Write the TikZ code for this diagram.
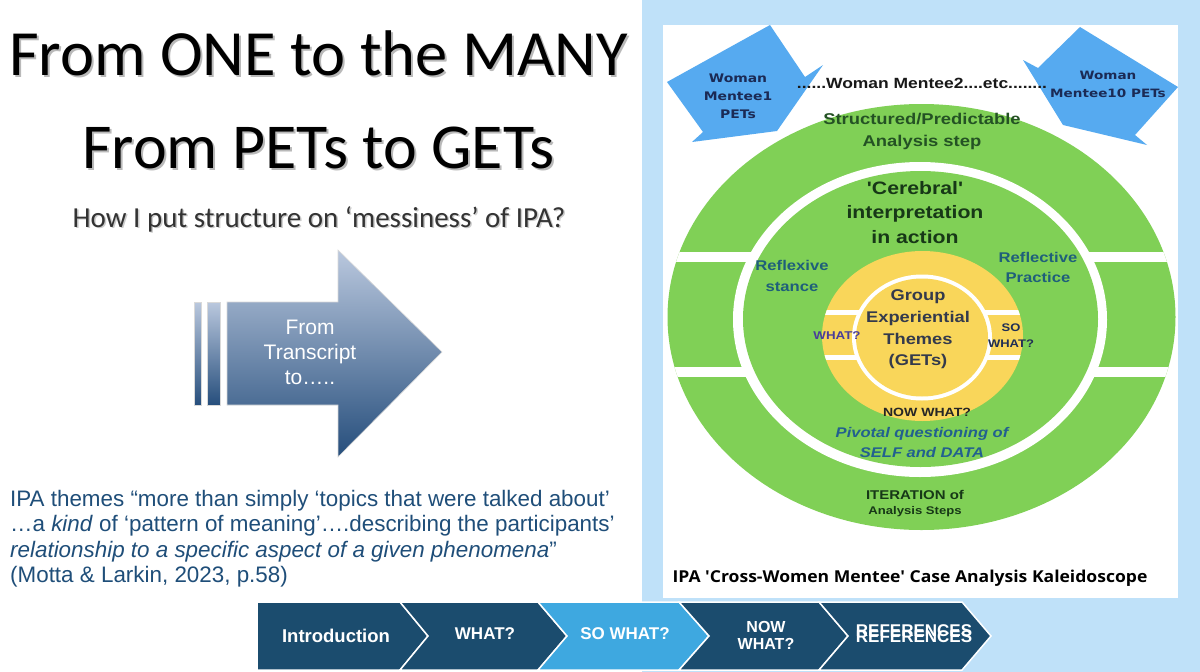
\documentclass[tikz,border=0pt]{standalone}
\usepackage{fontspec}
\setmainfont{Liberation Sans}
\newfontfamily\calfont{Carlito}
\newfontfamily\sfs[FakeStretch=1.18,Ligatures=TeXOff]{Liberation Sans}
\newfontfamily\dvs[FakeStretch=1.18,Ligatures=TeXOff]{DejaVu Sans}
\newfontfamily\ops[FakeStretch=1.07,Ligatures=TeXOff]{Open Sans}
\definecolor{panelblue}{RGB}{191,225,249}
\definecolor{ringgreen}{RGB}{128,208,86}
\definecolor{ringyellow}{RGB}{249,214,90}
\definecolor{arrowblue}{RGB}{86,170,240}
\definecolor{arrowtext}{RGB}{27,42,85}
\definecolor{dkgreen}{RGB}{36,82,36}
\definecolor{xdkgreen}{RGB}{23,56,23}
\definecolor{teal}{RGB}{31,95,122}
\definecolor{slate}{RGB}{52,58,76}
\definecolor{purp}{RGB}{74,61,154}
\definecolor{navy}{RGB}{31,46,85}
\definecolor{pivblue}{RGB}{34,96,143}
\definecolor{chevnavy}{RGB}{27,76,110}
\definecolor{chevlight}{RGB}{62,168,224}
\definecolor{quote}{RGB}{31,78,121}
\definecolor{arrowtop}{RGB}{186,200,222}
\definecolor{arrowbot}{RGB}{38,78,124}
\tikzset{
  txt/.style={inner sep=0pt, align=center},
  chev/.style={fill=chevnavy, draw=white, line width=1.5pt, line join=miter},
  chevtxt/.style={inner sep=0pt, align=center, text=white, font=\bfseries\fontsize{17}{18}\selectfont},
  quoteline/.style={inner sep=0pt, anchor=base west, text=quote, font=\fontsize{22.4}{25}\selectfont},
}
\begin{document}
\begin{tikzpicture}[x=1pt,y=-1pt]
\useasboundingbox (0,0) rectangle (1200,672);
\fill[white] (0,0) rectangle (1200,672);

% ---------------- left side ----------------
\node[txt, anchor=base, text=gray!55, font=\calfont\fontsize{64.5}{70}\selectfont] (t1s) at (320.5,77.5) {From ONE to the MANY};
\node[txt, anchor=base, font=\calfont\fontsize{64.5}{70}\selectfont] (t1) at (318.5,75) {From ONE to the MANY};
\node[txt, anchor=base, text=gray!55, font=\calfont\fontsize{64}{70}\selectfont] (t2s) at (320.5,170.5) {From PETs to GETs};
\node[txt, anchor=base, font=\calfont\fontsize{64}{70}\selectfont] (t2) at (318.5,168) {From PETs to GETs};
\node[txt, anchor=base, text=gray!40, font=\calfont\fontsize{29}{32}\selectfont] (t3s) at (320.5,228.5) {How I put structure on ‘messiness’ of IPA?};
\node[txt, anchor=base, text=black!80, font=\calfont\fontsize{29}{32}\selectfont] (t3) at (319,227) {How I put structure on ‘messiness’ of IPA?};

% big arrow
\shade[top color=arrowtop, bottom color=arrowbot, draw=white!70!gray, line width=0.6pt]
  (194,302) rectangle (201,405);
\shade[top color=arrowtop, bottom color=arrowbot, draw=white!70!gray, line width=0.6pt]
  (207,302) rectangle (220,405);
\shade[top color=arrowtop, bottom color=arrowbot, draw=white!70!gray, line width=0.6pt]
  (227,302) -- (338,302) -- (338,250) -- (442,352) -- (338,457) -- (338,405) -- (227,405) -- cycle;
\node[txt, text=white, font=\fontsize{21}{25}\selectfont] (arrtxt) at (310,352) {From\\Transcript\\to…..};

% quote
\node[quoteline] (q1) at (10,506) {IPA themes “more than simply ‘topics that were talked about’};
\node[quoteline] (q2) at (10,531.5) {…a \textit{kind} of ‘pattern of meaning’….describing the participants’};
\node[quoteline] (q3) at (10,557) {\textit{relationship to a specific aspect of a given phenomena}”};
\node[quoteline] (q4) at (10,582.5) {(Motta \& Larkin, 2023, p.58)};

% ---------------- right panel ----------------
\fill[panelblue] (642,0) rectangle (1200,672);
\fill[white] (663,25) rectangle (1178,598);

% rings
\fill[ringgreen] (921.5,317) ellipse [x radius=254pt, y radius=213pt];
\begin{scope}
  \clip (921.5,317) ellipse [x radius=254pt, y radius=213pt];
  \fill[white] (660,252) rectangle (1185,262);
  \fill[white] (660,367) rectangle (1185,377);
\end{scope}
\fill[white] (920,319.5) ellipse [x radius=187pt, y radius=157.5pt];
\fill[ringgreen] (920.5,319) ellipse [x radius=177.5pt, y radius=148pt];
\fill[ringyellow] (922.5,336) ellipse [x radius=100.5pt, y radius=85pt];
\begin{scope}
  \clip (922.5,336) ellipse [x radius=100.5pt, y radius=85pt];
  \fill[white] (815,310) rectangle (1030,315);
  \fill[white] (815,355) rectangle (1030,360);
\end{scope}
\fill[white] (922,337.5) ellipse [x radius=70pt, y radius=63pt];
\fill[ringyellow] (922,337.5) ellipse [x radius=66pt, y radius=59pt];

% blue arrows
\fill[arrowblue] (770,25) -- (805,77) -- (823,65) -- (777,131) -- (692,142) -- (703,132) -- (667,82) -- cycle;
\fill[arrowblue] (1080,27) -- (1178,87) -- (1135,135) -- (1147,145) -- (1063,125) -- (1023,60) -- (1038,68) -- cycle;
\node[txt, text=arrowtext, font=\dvs\bfseries\fontsize{11.8}{18}\selectfont] (wm1) at (738,96) {Woman\\Mentee1\\PETs};
\node[txt, text=arrowtext, font=\dvs\bfseries\fontsize{11.5}{18}\selectfont] (wm10) at (1108,84) {Woman\\Mentee10 PETs};
\node[txt, text=black!90, font=\sfs\bfseries\fontsize{14.8}{18}\selectfont] (wm2) at (922,83) {......Woman Mentee2....etc........};

% ring texts
\node[txt, text=dkgreen, font=\sfs\bfseries\fontsize{15.6}{22}\selectfont] (struct) at (922,131) {Structured/Predictable\\Analysis step};
\node[txt, text=xdkgreen, font=\sfs\bfseries\fontsize{18}{24.5}\selectfont] (cereb) at (915,212.5) {'Cerebral'\\interpretation\\in action};
\node[txt, text=teal, font=\sfs\bfseries\fontsize{14.1}{21}\selectfont] (reflex) at (792,275.5) {Reflexive\\stance};
\node[txt, text=teal, font=\sfs\bfseries\fontsize{14.1}{20}\selectfont] (reflect) at (1038,267) {Reflective\\Practice};
\node[txt, text=slate, font=\sfs\bfseries\fontsize{15.5}{21.7}\selectfont] (group) at (918,329.5) {Group\\Experiential\\Themes\\(GETs)};
\node[txt, text=purp, font=\sfs\bfseries\fontsize{11.3}{14}\selectfont] (what) at (837,336) {WHAT?};
\node[txt, text=navy, font=\sfs\bfseries\fontsize{11}{16}\selectfont] (sowhat) at (1011,336) {SO\\WHAT?};
\node[txt, text=black!85, font=\sfs\bfseries\fontsize{11.9}{14}\selectfont] (nowwhat) at (927,412) {NOW WHAT?};
\node[txt, text=pivblue, font=\sfs\bfseries\itshape\fontsize{14}{19.5}\selectfont] (pivot) at (922,442.5) {Pivotal questioning of\\SELF and DATA};
\node[txt, text=xdkgreen, font=\sfs\bfseries\fontsize{12.7}{14}\selectfont] (iter) at (915,495) {ITERATION of};
\node[txt, text=xdkgreen, font=\sfs\bfseries\fontsize{11.1}{14}\selectfont] (steps) at (915,512) {Analysis Steps};
\node[txt, text=black, font=\ops\bfseries\fontsize{16.4}{20}\selectfont] (kal) at (910,578) {IPA 'Cross-Women Mentee' Case Analysis Kaleidoscope};

% ---------------- chevron bar ----------------
\path[chev] (257,602) -- (400,602) -- (428,636) -- (400,670) -- (257,670) -- cycle;
\path[chev] (400,602) -- (538,602) -- (567,636) -- (538,670) -- (400,670) -- (428,636) -- cycle;
\path[chev, fill=chevlight] (538,602) -- (679,602) -- (709,636) -- (679,670) -- (538,670) -- (567,636) -- cycle;
\path[chev] (679,602) -- (819,602) -- (848,636) -- (819,670) -- (679,670) -- (709,636) -- cycle;
\path[chev] (819,602) -- (962,602) -- (991,636) -- (962,670) -- (819,670) -- (848,636) -- cycle;
\node[chevtxt, font=\bfseries\fontsize{18.5}{20}\selectfont] (c1) at (336,636) {Introduction};
\node[chevtxt] (c2) at (485,634) {WHAT?};
\node[chevtxt] (c3) at (625,634) {SO WHAT?};
\node[chevtxt, font=\bfseries\fontsize{16}{17}\selectfont] (c4) at (766,635) {NOW\\WHAT?};
\node[chevtxt] (c5a) at (914,631) {REFERENCES};
\node[chevtxt] (c5b) at (914,637) {REFERENCES};
\end{tikzpicture}
\end{document}
